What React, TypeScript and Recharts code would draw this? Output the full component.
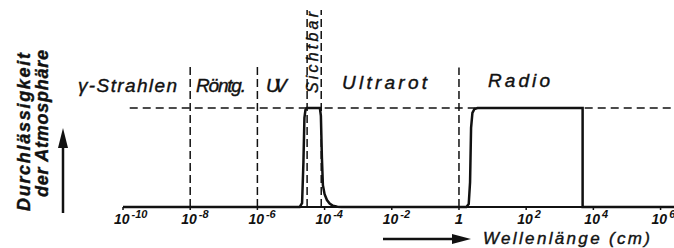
import React from 'react';
import { LineChart, Line, XAxis, YAxis, ReferenceLine } from 'recharts';

// wavelength as log10(cm), transmission as fraction of the full window height
const wavelengthExp = [-10, -4.74, -4.67, -4.63, -4.6, -4.57, -4.53, -4.14, -4.11, -4.08, -4.05, -4.0, -3.93, -3.85, -3.75, -3.62, -3.5, 0.22, 0.29, 0.33, 0.36, 0.4, 0.46, 0.55, 3.68, 3.68, 6.4];
const transmission = [0, 0, 0.04, 0.45, 0.9, 0.98, 1, 1, 0.92, 0.5, 0.22, 0.13, 0.07, 0.035, 0.012, 0.003, 0, 0, 0.03, 0.25, 0.8, 0.95, 0.99, 1, 1, 0, 0];

const tickExps = [-10, -8, -6, -4, -2, 0, 2, 4, 6];
// region borders (log10 cm) and how far up their dashed lines reach
const borderExps = [-8, -6, -4.52, -4.1, 0];
const borderTops = [1.43, 1.43, 1.99, 1.99, 1.41];
const regionLabels = ['γ-Strahlen', 'Röntg.', 'UV', 'Sichtbar', 'Ultrarot', 'Radio'];

const data = wavelengthExp.map((e, i) => ({ e, t: transmission[i] }));

const font = "'Liberation Sans', Arial, sans-serif";

function WaveTick({ x, y, payload }: any) {
  const v = payload.value;
  if (v === 0) {
    return (
      <text x={x} y={y + 12} textAnchor="middle" fontFamily={font} fontStyle="italic" fontWeight="bold" fontSize={15} fill="#111">
        1
      </text>
    );
  }
  return (
    <text x={x - 9} y={y + 12} fontFamily={font} fontStyle="italic" fontWeight="bold" fontSize={14} fill="#111">
      <tspan>10</tspan>
      <tspan dx={2} dy={-6} fontSize={11}>{v}</tspan>
    </text>
  );
}

export default function App() {
  const txt = {
    fontFamily: font,
    fontStyle: 'italic' as const,
    fill: '#111',
    stroke: '#111',
    strokeWidth: 0.4,
    lengthAdjust: 'spacing',
  };
  return (
    <div style={{ position: 'relative', width: 674, height: 248, background: '#fff' }}>
      <style>{'body{margin:0}'}</style>
      <LineChart width={674} height={248} data={data} margin={{ top: 9, right: 0, left: 123, bottom: 0 }}>
        <XAxis
          type="number"
          dataKey="e"
          domain={[-10, 6.4]}
          ticks={tickExps}
          allowDataOverflow
          axisLine={{ stroke: '#111', strokeWidth: 2 }}
          tickLine={{ stroke: '#111', strokeWidth: 1.5 }}
          tickSize={3}
          tick={<WaveTick />}
          interval={0}
          height={41}
        />
        <YAxis type="number" domain={[0, 2]} hide />
        <ReferenceLine
          segment={[{ x: -9.8, y: 1 }, { x: 6.4, y: 1 }]}
          stroke="#111"
          strokeWidth={1.5}
          strokeDasharray="8 5"
          ifOverflow="visible"
        />
        {borderExps.map((b, i) => (
          <ReferenceLine
            key={i}
            segment={[{ x: b, y: 0 }, { x: b, y: borderTops[i] }]}
            stroke="#111"
            strokeWidth={1.5}
            strokeDasharray="8 4"
            ifOverflow="visible"
          />
        ))}
        <Line type="linear" dataKey="t" stroke="#111" strokeWidth={2.5} dot={false} isAnimationActive={false} />
      </LineChart>
      <svg width={674} height={248} style={{ position: 'absolute', left: 0, top: 0, pointerEvents: 'none' }}>
        <text x={78} y={92} fontSize={19} textLength={99} {...txt}>{regionLabels[0]}</text>
        <text x={196} y={92} fontSize={19} textLength={50} {...txt}>{regionLabels[1]}</text>
        <text x={266} y={92} fontSize={19} textLength={21} {...txt}>{regionLabels[2]}</text>
        <text transform="translate(318,93) rotate(-90)" fontSize={16} textLength={81} {...txt}>{regionLabels[3]}</text>
        <text x={342} y={89} fontSize={19} textLength={85} {...txt}>{regionLabels[4]}</text>
        <text x={488} y={87} fontSize={19} textLength={62} {...txt}>{regionLabels[5]}</text>

        <text transform="translate(30,211) rotate(-90)" fontSize={18} fontWeight="bold" textLength={158} {...txt}>Durchlässigkeit</text>
        <text transform="translate(48,197) rotate(-90)" fontSize={18} fontWeight="bold" textLength={147} {...txt}>der Atmosphäre</text>
        <line x1={63} y1={213} x2={63} y2={146} stroke="#111" strokeWidth={2.5} />
        <polygon points="63,128 58,148 68,148" fill="#111" />

        <line x1={383} y1={239} x2={456} y2={239} stroke="#111" strokeWidth={2.5} />
        <polygon points="471,239 452,234 452,244" fill="#111" />
        <text x={483} y={244} fontSize={17} textLength={167} {...txt}>Wellenlänge (cm)</text>
      </svg>
    </div>
  );
}
